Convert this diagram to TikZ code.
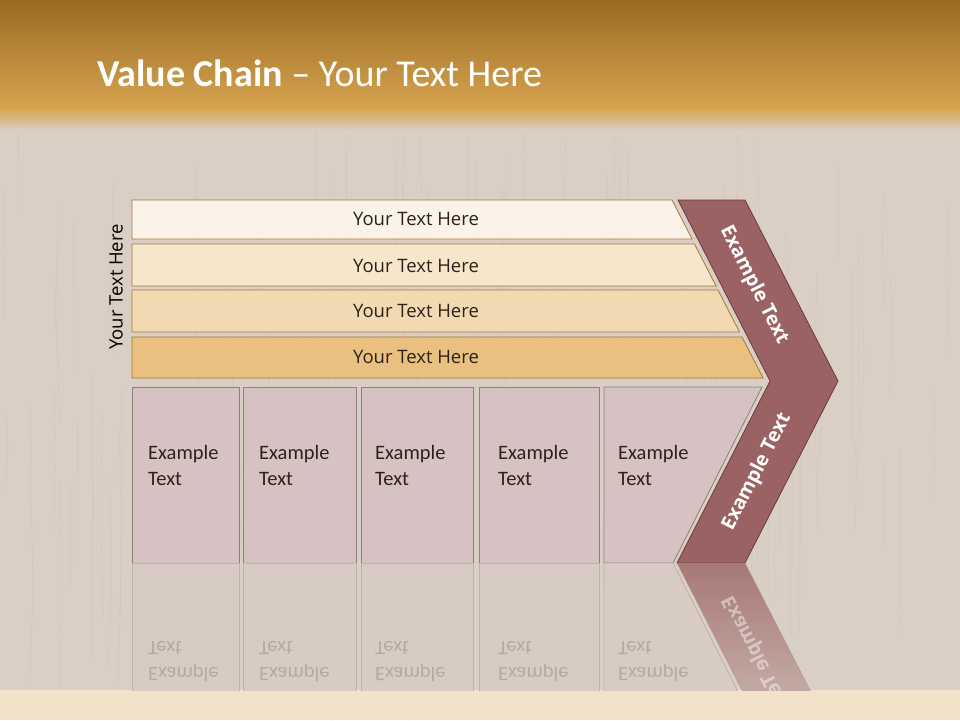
\documentclass[tikz,border=0pt]{standalone}
\usepackage{fontspec}
\setmainfont{Carlito}
\newfontfamily\osans{Open Sans}
\definecolor{wood}{HTML}{D9CFC4}
\definecolor{grain}{HTML}{B8AA98}
\definecolor{topdark}{HTML}{9A6A24}
\definecolor{topmid}{HTML}{D6A44F}
\definecolor{stripc}{HTML}{F2E2CA}
\definecolor{barA}{HTML}{FBF3E8}
\definecolor{barB}{HTML}{F6E6CC}
\definecolor{barC}{HTML}{F1D9B2}
\definecolor{barD}{HTML}{E9C07F}
\definecolor{barline}{HTML}{A8763A}
\definecolor{boxc}{HTML}{D6C2C3}
\definecolor{boxline}{HTML}{8C8080}
\definecolor{chev}{HTML}{9A6262}
\definecolor{chevline}{HTML}{6A3C3C}
\definecolor{txtdark}{HTML}{2E2218}
\begin{document}
\begin{tikzpicture}[x=1pt,y=-1pt,
  barshape/.style={draw=barline, line width=0.8pt},
  bartext/.style={font=\osans\fontsize{18.5}{22}\selectfont, text=txtdark, inner sep=0pt},
  boxshape/.style={fill=boxc, draw=boxline, line width=0.8pt},
  boxtext/.style={font=\fontsize{20.5}{24}\selectfont, text=txtdark, inner sep=0pt, anchor=base west},
  chevshape/.style={fill=chev, draw=chevline, line width=0.8pt},
  chevtext/.style={font=\osans\bfseries\fontsize{19.5}{22}\selectfont, text=white, inner sep=0pt},
  refbox/.style={fill=boxc!30!wood, draw=boxline!35!wood, line width=0.8pt},
  reftext/.style={font=\fontsize{20.5}{24}\selectfont, text=txtdark, text opacity=0.2, inner sep=0pt, anchor=base west, yscale=-1},
  grainline/.style={draw=grain, line width=0.6pt, draw opacity=0.18}
]
% background
\fill[wood] (0,0) rectangle (960,720);
\useasboundingbox (0,0) rectangle (960,720);
\pgfmathsetseed{7}
\foreach \i in {1,...,140}{
  \pgfmathsetmacro{\gx}{rnd*960}
  \pgfmathsetmacro{\gy}{110+rnd*420}
  \pgfmathsetmacro{\gl}{60+rnd*200}
  \pgfmathsetmacro{\gw}{(rnd-0.5)*6}
  \draw[grainline] (\gx,\gy) .. controls (\gx+\gw,\gy+\gl/2) .. (\gx-\gw/2,\gy+\gl);
}
\shade[top color=topdark, bottom color=topmid] (0,0) rectangle (960,108);
\shade[top color=topmid, bottom color=wood] (0,108) rectangle (960,130);
\fill[stripc] (0,690) rectangle (960,720);

% title
\node[anchor=base west, inner sep=0pt, text=white, font=\fontsize{38}{44}\selectfont] (title) at (97,86) {\textbf{Value Chain} -- Your Text Here};

% left vertical label
\node[rotate=90, font=\osans\fontsize{18.5}{22}\selectfont, text=black, inner sep=0pt] (side) at (116,287) {Your Text Here};

% top bars
\draw[barshape, fill=barA] (132,200) -- (672,200) -- (692,239) -- (132,239) -- cycle;
\draw[barshape, fill=barB] (132,244) -- (694.5,244) -- (716,286) -- (132,286) -- cycle;
\draw[barshape, fill=barC] (132,290) -- (718,290) -- (739.5,332) -- (132,332) -- cycle;
\draw[barshape, fill=barD] (132,337) -- (742,337) -- (763,378) -- (132,378) -- cycle;
\node[bartext] (b1) at (416,219) {Your Text Here};
\node[bartext] (b2) at (416,266) {Your Text Here};
\node[bartext] (b3) at (416,311) {Your Text Here};
\node[bartext] (b4) at (416,357) {Your Text Here};

% lower boxes
\draw[boxshape] (132,387) rectangle (239,563);
\draw[boxshape] (243,387) rectangle (356,563);
\draw[boxshape] (361,387) rectangle (473,563);
\draw[boxshape] (479,387) rectangle (599,563);
\draw[boxshape] (604,387) -- (762,387) -- (673,563) -- (604,563) -- cycle;
\foreach \x/\n in {148/1,259/2,375/3,498/4,618/5}{
  \node[boxtext] (e\n a) at (\x,459) {Example};
  \node[boxtext] (e\n b) at (\x,485) {Text};
}

% chevron
\draw[chevshape] (678,200) -- (745,200) -- (838,381) -- (745,563) -- (677,563) -- (770,381) -- cycle;
\node[chevtext, rotate=-63] (c1) at (754,285) {Example Text};
\node[chevtext, rotate=63] (c2) at (757,472) {Example Text};

% reflection
\begin{scope}
\clip (0,563) rectangle (960,690);
\draw[refbox] (132,563) rectangle (239,739);
\draw[refbox] (243,563) rectangle (356,739);
\draw[refbox] (361,563) rectangle (473,739);
\draw[refbox] (479,563) rectangle (599,739);
\draw[refbox] (604,563) -- (673,563) -- (762,739) -- (604,739) -- cycle;
\foreach \x/\n in {148/1,259/2,375/3,498/4,618/5}{
  \node[reftext] (r\n a) at (\x,667) {Example};
  \node[reftext] (r\n b) at (\x,641) {Text};
}
\shade[top color=chev!80!wood, bottom color=chev!15!wood, draw=chevline!40!wood] (677,563) -- (745,563) -- (838,745) -- (770,745) -- cycle;
\node[chevtext, text opacity=0.45, rotate=-63, yscale=-1] (rc) at (757,654) {Example Text};
\end{scope}
\end{tikzpicture}
\end{document}
